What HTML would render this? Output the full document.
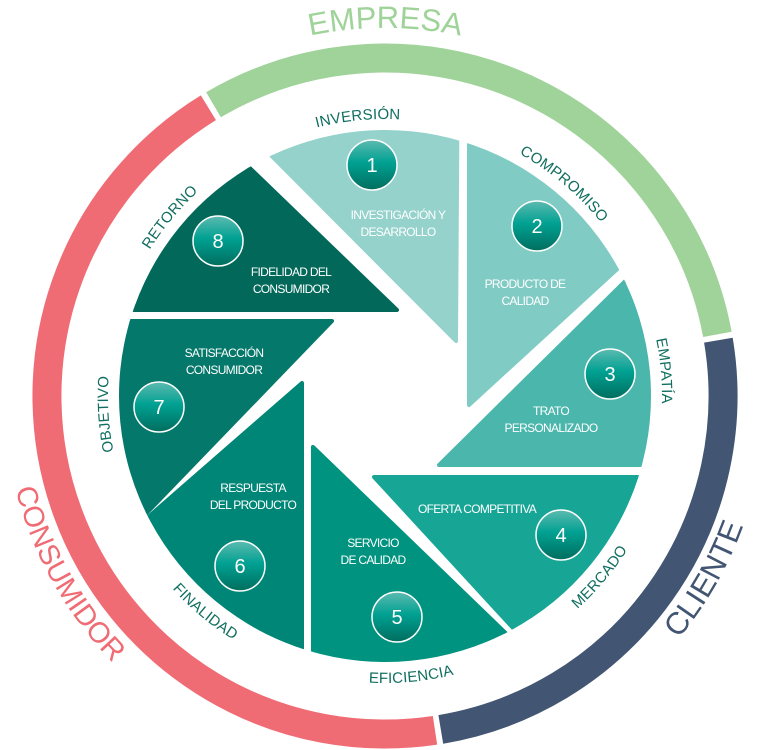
<!DOCTYPE html>
<html><head><meta charset="utf-8"><style>
html,body{margin:0;padding:0;background:#fff;}
svg{display:block;}
.lbl{font-family:"Liberation Sans",sans-serif;font-size:12px;fill:#fff;text-anchor:middle;letter-spacing:-0.7px;}
.ring{font-family:"Liberation Sans",sans-serif;font-size:15px;fill:#106e60;letter-spacing:0.2px;}
.num{font-family:"Liberation Sans",sans-serif;font-size:20px;fill:#fff;text-anchor:middle;}
</style></head><body>
<svg width="760" height="750" viewBox="0 0 760 750" xmlns="http://www.w3.org/2000/svg">
<defs>
<clipPath id="cc"><circle cx="385" cy="396" r="266"/></clipPath>
<linearGradient id="bg" x1="0" y1="0" x2="0" y2="1">
<stop offset="0" stop-color="#5dbab0"/><stop offset="0.45" stop-color="#00a192"/><stop offset="1" stop-color="#006d5e"/>
</linearGradient>
<path id="cw277" d="M385,673 A277,277 0 1 1 385,119 A277,277 0 1 1 385,673"/>
<path id="ccw287" d="M385,109 A287,287 0 1 0 385,683 A287,287 0 1 0 385,109"/>
<path id="cw368" d="M385,764 A368,368 0 1 1 385,28 A368,368 0 1 1 385,764"/>
<path id="ccw381" d="M385,15 A381,381 0 1 0 385,777 A381,381 0 1 0 385,15"/>
</defs>

<path d="M213.5,104.8 A338,338 0 0 1 717.4,334.4" fill="none" stroke="#a0d39a" stroke-width="29"/>
<path d="M718.4,340.2 A338,338 0 0 1 440.8,729.4" fill="none" stroke="#425673" stroke-width="29"/>
<path d="M435.0,730.3 A338,338 0 0 1 208.4,107.8" fill="none" stroke="#f06c75" stroke-width="29"/>

<g clip-path="url(#cc)" stroke-linejoin="round" stroke-width="4">
<polygon points="456,341 150,34 458,34" fill="#95d2cc" stroke="#95d2cc"/>
<polygon points="469,405 469,100 769,100 769,130" fill="#80cbc4" stroke="#80cbc4"/>
<polygon points="439,465 680,227 700,227 700,465" fill="#4ab6ac" stroke="#4ab6ac"/>
<polygon points="374,477 700,477 700,700 560,679" fill="#17a596" stroke="#17a596"/>
<polygon points="313,447 545,671 313,720" fill="#00937f" stroke="#00937f"/>
<polygon points="302,383 302,720 100,720 100,559" fill="#008676" stroke="#008676"/>
<polygon points="332,321 100,321 100,551 110,551" fill="#04786a" stroke="#04786a"/>
<polygon points="397,310 100,310 100,120 200,120" fill="#02695a" stroke="#02695a"/>
</g>

<g stroke="#fff" stroke-width="1.5" fill="url(#bg)">
<circle cx="372" cy="165" r="25"/>
<circle cx="537" cy="226" r="25"/>
<circle cx="610" cy="374" r="25"/>
<circle cx="561" cy="535" r="25"/>
<circle cx="397" cy="617" r="25"/>
<circle cx="240" cy="566" r="25"/>
<circle cx="159" cy="407" r="25"/>
<circle cx="218" cy="241" r="25"/>
</g>
<text class="num" x="372" y="172">1</text>
<text class="num" x="537" y="233">2</text>
<text class="num" x="610" y="381">3</text>
<text class="num" x="561" y="542">4</text>
<text class="num" x="397" y="624">5</text>
<text class="num" x="240" y="573">6</text>
<text class="num" x="159" y="414">7</text>
<text class="num" x="218" y="248">8</text>

<text class="lbl" x="398" y="219">INVESTIGACIÓN Y</text>
<text class="lbl" x="398" y="236">DESARROLLO</text>
<text class="lbl" x="291" y="276">FIDELIDAD DEL</text>
<text class="lbl" x="291" y="293">CONSUMIDOR</text>
<text class="lbl" x="525" y="288">PRODUCTO DE</text>
<text class="lbl" x="525" y="305">CALIDAD</text>
<text class="lbl" x="224" y="357">SATISFACCIÓN</text>
<text class="lbl" x="224" y="374">CONSUMIDOR</text>
<text class="lbl" x="551" y="415">TRATO</text>
<text class="lbl" x="551" y="432">PERSONALIZADO</text>
<text class="lbl" x="253" y="492">RESPUESTA</text>
<text class="lbl" x="253" y="509">DEL PRODUCTO</text>
<text class="lbl" x="477" y="513">OFERTA COMPETITIVA</text>
<text class="lbl" x="373" y="547">SERVICIO</text>
<text class="lbl" x="373" y="564">DE CALIDAD</text>

<g class="ring" text-anchor="middle">
<text><textPath href="#cw277" startOffset="843">INVERSIÓN</textPath></text>
<text><textPath href="#cw277" startOffset="1064">COMPROMISO</textPath></text>
<text><textPath href="#cw277" startOffset="1280">EMPATÍA</textPath></text>
<text><textPath href="#cw277" startOffset="627">RETORNO</textPath></text>
<text><textPath href="#cw277" startOffset="417">OBJETIVO</textPath></text>
<text><textPath href="#ccw287" startOffset="1151">MERCADO</textPath></text>
<text><textPath href="#ccw287" startOffset="928">EFICIENCIA</textPath></text>
<text><textPath href="#ccw287" startOffset="702">FINALIDAD</textPath></text>
</g>

<g font-family="'Liberation Sans',sans-serif" text-anchor="middle">
<text font-size="31" fill="#a0d39a"><textPath href="#cw368" startOffset="1156">EMPRESA</textPath></text>
<text font-size="31" fill="#425673"><textPath href="#ccw381" startOffset="1597">CLIENTE</textPath></text>
<text font-size="29" fill="#f06c75"><textPath href="#ccw381" startOffset="793">CONSUMIDOR</textPath></text>
</g>
</svg>
</body></html>
